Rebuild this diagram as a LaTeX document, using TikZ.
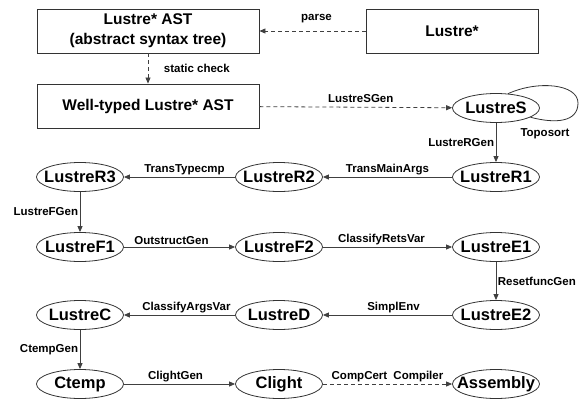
\documentclass[tikz,border=0pt]{standalone}
\usepackage{fontspec}
\setmainfont{Liberation Sans}
\usetikzlibrary{arrows.meta,shapes.geometric}
\newcommand\etxt[1]{\makebox[0pt]{#1}}
\begin{document}
\begin{tikzpicture}[x=1pt,y=-1pt,
  box/.style={draw=black!80, line width=0.9pt, minimum width=222pt, minimum height=44pt, inner sep=0pt, align=center, font=\fontsize{15.5}{20}\selectfont\bfseries},
  ell/.style={ellipse, draw=black!80, line width=0.8pt, minimum width=87pt, minimum height=29pt, inner sep=0pt, font=\fontsize{16.5}{18}\selectfont\bfseries},
  arr/.style={draw=black!75, line width=0.8pt, -{Triangle[length=6pt,width=5pt]}},
  darr/.style={arr, dash pattern=on 4pt off 3pt},
  lab/.style={font=\fontsize{11.5}{13}\selectfont\bfseries, inner sep=1.5pt, text=black}
]
\useasboundingbox (0,0) rectangle (579,402);
% boxes
\node[box] (ast) at (148,31) {Lustre* AST\\(abstract syntax tree)};
\node[box, minimum width=172pt] (src) at (452,31) {Lustre*};
\node[box] (wt) at (148,106) {Well-typed Lustre* AST};
% ellipses
\node[ell] (S) at (496,108) {\etxt{LustreS}};
\node[ell] (R1) at (496,177) {\etxt{LustreR1}};
\node[ell] (R2) at (279,177) {\etxt{LustreR2}};
\node[ell] (R3) at (80,177) {\etxt{LustreR3}};
\node[ell] (F1) at (80,247) {\etxt{LustreF1}};
\node[ell] (F2) at (279,247) {\etxt{LustreF2}};
\node[ell] (E1) at (496,247) {\etxt{LustreE1}};
\node[ell] (E2) at (496,315) {\etxt{LustreE2}};
\node[ell] (D) at (279,315) {\etxt{LustreD}};
\node[ell] (C) at (80,315) {\etxt{LustreC}};
\node[ell] (Ct) at (80,384) {\etxt{Ctemp}};
\node[ell] (Cl) at (279,384) {\etxt{Clight}};
\node[ell] (As) at (496,384) {\etxt{Assembly}};
% connectors
\draw[darr] (src) -- node[lab, above, yshift=6pt, xshift=4pt] {parse} (ast);
\draw[darr] (ast) -- node[lab, right, xshift=14pt] {static check} (wt);
\draw[darr] (wt) -- node[lab, above, yshift=3pt, xshift=5pt] {LustreSGen} (S);
\draw[draw=black!80, line width=0.8pt] (S.50) .. controls (538,80) and (578,84) .. (578,103) .. controls (578,122) and (556,124) .. (S.-15);
\node[lab] (topo) at (545,134) {Toposort};
\draw[arr] (S) -- node[lab, left] {LustreRGen} (R1);
\draw[arr] (R1) -- node[lab, above, xshift=0pt] {TransMainArgs} (R2);
\draw[arr] (R2) -- node[lab, above, xshift=5pt] {TransTypecmp} (R3);
\draw[arr] (R3) -- node[lab, left] {LustreFGen} (F1);
\draw[arr] (F1) -- node[lab, above, xshift=-8pt] {OutstructGen} (F2);
\draw[arr] (F2) -- node[lab, above, xshift=-6pt] {ClassifyRetsVar} (E1);
\draw[arr] (E1) -- node[lab, right] {ResetfuncGen} (E2);
\draw[arr] (E2) -- node[lab, above, xshift=6pt] {SimplEnv} (D);
\draw[arr] (D) -- node[lab, above, xshift=7pt] {ClassifyArgsVar} (C);
\draw[arr] (C) -- node[lab, left] {CtempGen} (Ct);
\draw[arr] (Ct) -- node[lab, above, xshift=-4pt] {ClightGen} (Cl);
\draw[darr] (Cl) -- node[lab, above] {CompCert\hspace{3pt} Compiler} (As);
\end{tikzpicture}
\end{document}
